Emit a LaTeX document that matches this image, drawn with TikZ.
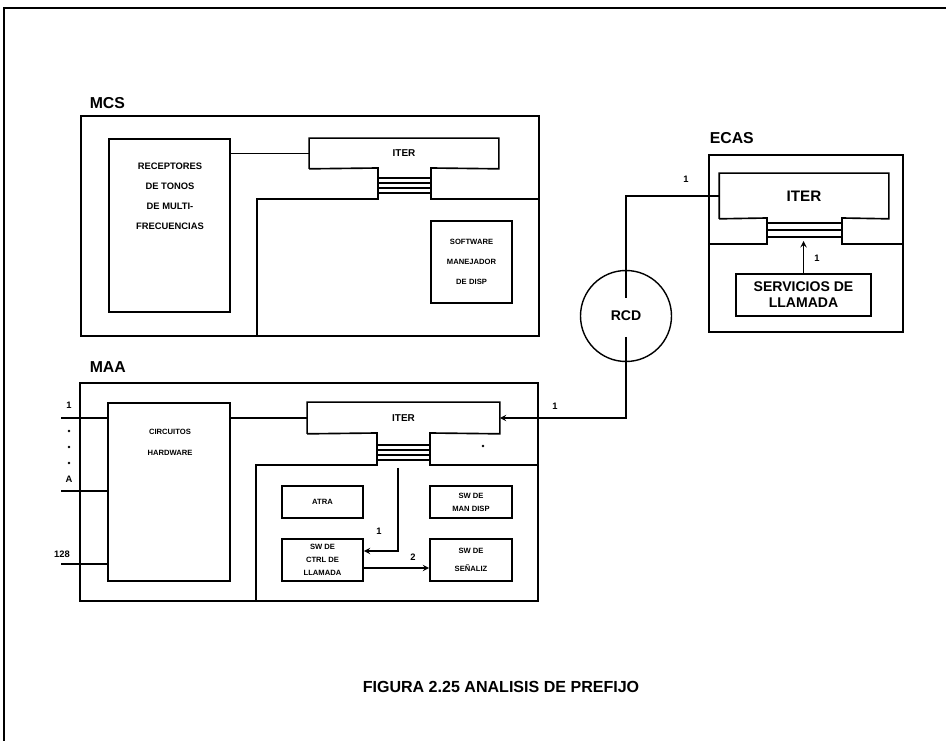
\documentclass[tikz,border=0pt]{standalone}
\usepackage{fontspec}
\setmainfont{Liberation Sans}
\usetikzlibrary{arrows.meta}

\tikzset{
  blk/.style={draw, line width=1.4pt, inner sep=0pt},
  hdr/.style={font=\bfseries\fontsize{13.5}{15}\selectfont, inner sep=0pt, anchor=west},
  tinytxt/.style={font=\bfseries\fontsize{6.5}{11}\selectfont, align=center, inner sep=0pt},
  midtxt/.style={font=\bfseries\fontsize{8}{17}\selectfont, align=center, inner sep=0pt},
  num/.style={font=\bfseries\fontsize{8}{9}\selectfont, inner sep=0pt},
}

\begin{document}
\begin{tikzpicture}[x=0.03cm, y=-0.03cm, >=stealth, line width=1.4pt]
                \useasboundingbox (0,0) rectangle (946,741);
                % frame of the page
                \draw[line width=1.6pt] (4,741) -- (4,8) -- (946,8);

                % MCS
                \node[hdr] (mcslbl) at (89,103) {MCS};
                \node[blk, minimum width=13.74cm, minimum height=6.6cm] (mcs) at (310,226) {};
                \node[blk, minimum width=3.63cm, minimum height=5.19cm] (rec) at (169.5,225.5) {};
                \node[midtxt] (rectxt) at (170,196) {RECEPTORES\\DE TONOS\\DE MULTI-\\FRECUENCIAS};
                \node[minimum width=5.64cm, minimum height=0.87cm, inner sep=0pt,
                      font=\bfseries\fontsize{8.5}{10}\selectfont] (mcsiter) at (404,153.5) {ITER};
                \draw (mcsiter.south west) -- (mcsiter.north west) -- (mcsiter.north east) -- (mcsiter.south east)
                      -- (431,168) -- (431,199) -- (mcs.east |- 0,199);
                \draw (mcsiter.south west) -- (378,168) -- (378,199) -- (257,199) -- (257,0 |- mcs.south);
                \foreach \yy in {178,183,188,193}
                    \draw[line width=1pt] (378,\yy) -- (431,\yy);
                \draw (rec.east |- mcsiter.west) -- (mcsiter.west);
                \node[blk, tinytxt, text width=2.3cm, minimum width=2.43cm, minimum height=2.46cm,
                      font=\bfseries\fontsize{6.5}{17}\selectfont] (soft) at (471.5,262) {SOFTWARE\\MANEJADOR\\DE DISP};

                % MAA
                \node[hdr] (maalbl) at (89,367) {MAA};
                \node[blk, minimum width=13.74cm, minimum height=6.54cm] (maa) at (309,492) {};
                \node[blk, minimum width=3.66cm, minimum height=5.34cm] (cir) at (169,492) {};
                \node[tinytxt, font=\bfseries\fontsize{6.5}{18}\selectfont] (cirtxt) at (170,442.5) {CIRCUITOS\\HARDWARE};
                \node[minimum width=5.73cm, minimum height=0.9cm, inner sep=0pt,
                      font=\bfseries\fontsize{8.5}{10}\selectfont] (maaiter) at (403.5,418) {ITER};
                \draw (maaiter.south west) -- (maaiter.north west) -- (maaiter.north east) -- (maaiter.south east)
                      -- (430,433) -- (430,465) -- (maa.east |- 0,465);
                \draw (maaiter.south west) -- (377,433) -- (377,465) -- (256,465) -- (256,0 |- maa.south);
                \foreach \yy in {445,450,455,460}
                    \draw[line width=1pt] (377,\yy) -- (430,\yy);
                \fill (483,446) circle (1.2pt);
                \draw (cir.east |- maaiter.west) -- (maaiter.west);

                \node[blk, tinytxt, minimum width=2.43cm, minimum height=0.96cm] (atra) at (322.5,502) {ATRA};
                \node[blk, tinytxt, minimum width=2.46cm, minimum height=0.96cm] (mandisp) at (471,502) {SW DE\\MAN DISP};
                \node[blk, tinytxt, minimum width=2.43cm, minimum height=1.26cm] (ctrl) at (322.5,560) {SW DE\\CTRL DE\\LLAMADA};
                \node[blk, tinytxt, minimum width=2.46cm, minimum height=1.26cm,
                      font=\bfseries\fontsize{6.5}{15}\selectfont] (senal) at (471,560) {SW DE\\SEÑALIZ};

                \coordinate (bus1) at (398,468);
                \draw[->] (bus1) |- ([yshift=0.27cm]ctrl.east);
                \node[num] (n1a) at (379,531) {1};
                \draw[->] ([yshift=-0.24cm]ctrl.east) -- ([yshift=-0.24cm]ctrl.east -| senal.west);
                \node[num] (n2) at (413,557) {2};

                % line inputs
                \coordinate (in1) at (61,418);
                \coordinate (inA) at (61,491);
                \coordinate (in128) at (61,564);
                \draw (in1) -- (in1 -| cir.west);
                \draw (inA) -- (inA -| cir.west);
                \draw (in128) -- (in128 -| cir.west);
                \node[num] (l1) at (69,405) {1};
                \node[num] (lA) at (69,479) {A};
                \node[num] (l128) at (62,554) {128};
                \foreach \yy in {431,447,463}
                    \fill (69,\yy) circle (1.2pt);

                % RCD
                \node[draw, circle, line width=1.2pt, minimum size=2.73cm, inner sep=0pt,
                      font=\bfseries\fontsize{12}{14}\selectfont] (rcd) at (626,316) {RCD};
                \coordinate (rcdhi) at (626,298);
                \coordinate (rcdlo) at (626,337);
                \draw[->] (rcdlo) |- (maaiter.east);
                \node[num] (n1b) at (555,406) {1};

                % ECAS
                \node[hdr] (ecaslbl) at (709,138) {ECAS};
                \node[blk, minimum width=5.82cm, minimum height=5.31cm] (ecas) at (806,243.5) {};
                \node[minimum width=5.04cm, minimum height=1.32cm, inner sep=0pt,
                      font=\bfseries\fontsize{13}{15}\selectfont] (ecasiter) at (804,196) {ITER};
                \draw (ecasiter.south west) -- (ecasiter.north west) -- (ecasiter.north east) -- (ecasiter.south east)
                      -- (842,218) -- (842,244) -- (ecas.east |- 0,244);
                \draw (ecasiter.south west) -- (767,218) -- (767,244) -- (ecas.west |- 0,244);
                \foreach \yy in {223,230,237}
                    \draw[line width=1pt] (767,\yy) -- (842,\yy);
                \draw (rcdhi) |- (ecasiter.west);
                \node[num] (n1c) at (686,179) {1};
                \node[blk, minimum width=4.05cm, minimum height=1.26cm, align=center,
                      font=\bfseries\fontsize{12}{13.6}\selectfont] (serv) at (803.5,295) {SERVICIOS DE\\LLAMADA};
                \draw[->] (serv.north) -- (serv.north |- 0,241);
                \node[num] (n1d) at (817,258) {1};

                % caption
                \node[font=\bfseries\fontsize{13.7}{16}\selectfont, inner sep=0pt] (cap) at (501,687)
                     {FIGURA 2.25 ANALISIS DE PREFIJO};
            \end{tikzpicture}
\end{document}
